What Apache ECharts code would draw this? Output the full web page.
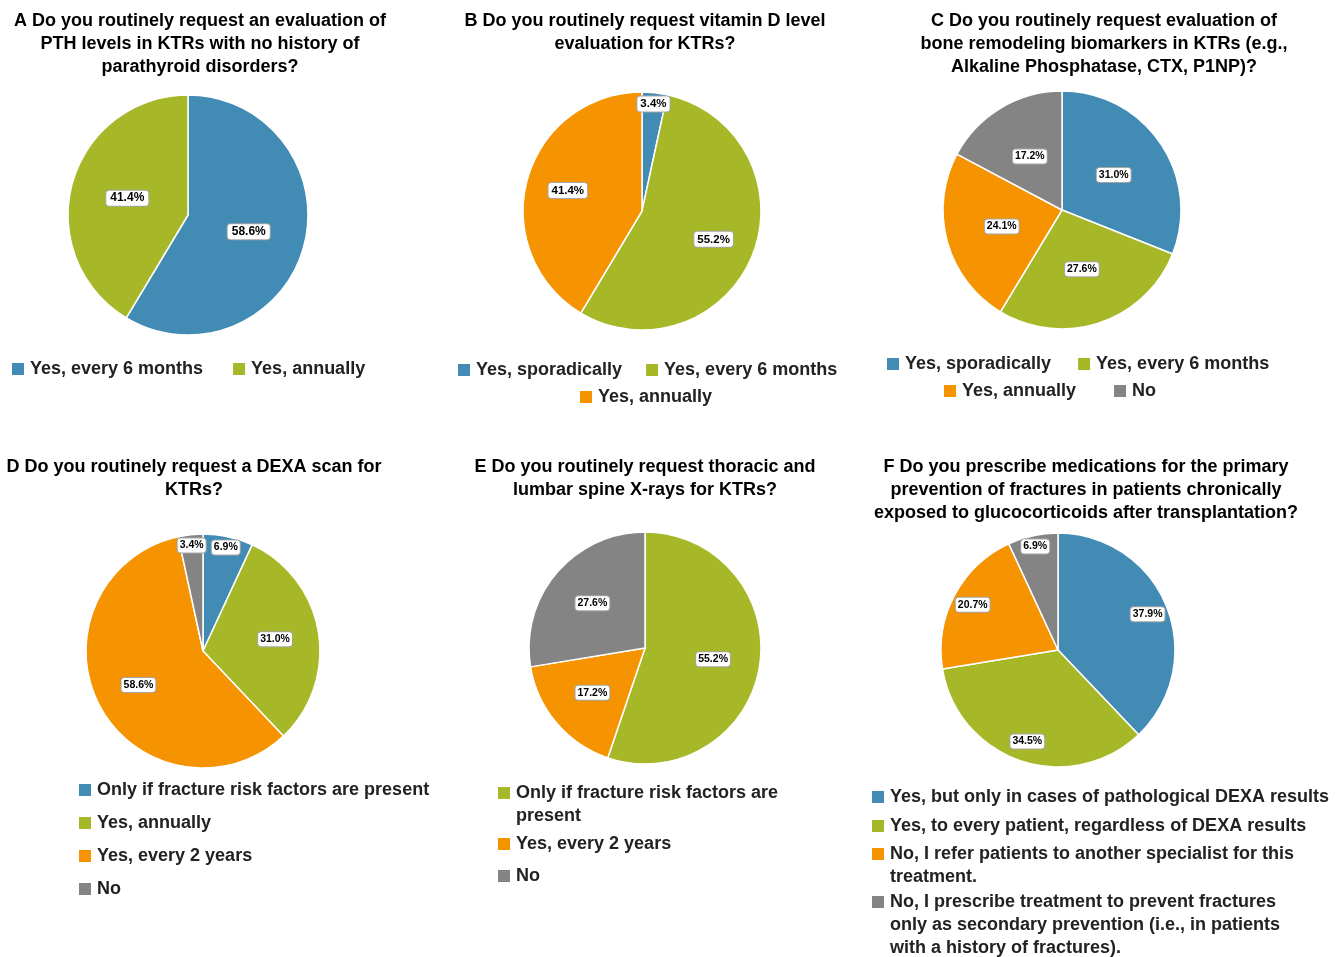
<!DOCTYPE html>
<html>
<head>
<meta charset="utf-8">
<script src="https://cdn.jsdelivr.net/npm/echarts@6/dist/echarts.min.js"></script>
<style>
html, body { margin: 0; background: #fff; }
#main { width: 1338px; height: 957px; }
</style>
</head>
<body>
<div id="main"></div>
<script>
// ---- data ----
var titleA = 'A Do you routinely request an evaluation of\nPTH levels in KTRs with no history of\nparathyroid disorders?';
var namesA = ['Yes, every 6 months', 'Yes, annually'];
var valuesA = [58.6, 41.4];

var titleB = 'B Do you routinely request vitamin D level\nevaluation for KTRs?';
var namesB = ['Yes, sporadically', 'Yes, every 6 months', 'Yes, annually'];
var valuesB = [3.4, 55.2, 41.4];

var titleC = 'C Do you routinely request evaluation of\nbone remodeling biomarkers in KTRs (e.g.,\nAlkaline Phosphatase, CTX, P1NP)?';
var namesC = ['Yes, sporadically', 'Yes, every 6 months', 'Yes, annually', 'No'];
var valuesC = [31.0, 27.6, 24.1, 17.2];

var titleD = 'D Do you routinely request a DEXA scan for\nKTRs?';
var namesD = ['Only if fracture risk factors are present', 'Yes, annually', 'Yes, every 2 years', 'No'];
var valuesD = [6.9, 31.0, 58.6, 3.4];

var titleE = 'E Do you routinely request thoracic and\nlumbar spine X-rays for KTRs?';
var namesE = ['Only if fracture risk factors are present', 'Yes, every 2 years', 'No'];
var valuesE = [55.2, 17.2, 27.6];

var titleF = 'F Do you prescribe medications for the primary\nprevention of fractures in patients chronically\nexposed to glucocorticoids after transplantation?';
var namesF = [
  'Yes, but only in cases of pathological DEXA results',
  'Yes, to every patient, regardless of DEXA results',
  'No, I refer patients to another specialist for this treatment.',
  'No, I prescribe treatment to prevent fractures only as secondary prevention (i.e., in patients with a history of fractures).'
];
var valuesF = [37.9, 34.5, 20.7, 6.9];

// ---- styles ----
var BLUE = '#428bb4', GREEN = '#a6b727', ORANGE = '#f59300', GREY = '#848484';
var FONT = '"Liberation Sans", Arial, sans-serif';
var LH = 23;
var colorsA = [BLUE, GREEN];
var colorsB = [BLUE, GREEN, ORANGE];
var colorsC = [BLUE, GREEN, ORANGE, GREY];
var colorsD = [BLUE, GREEN, ORANGE, GREY];
var colorsE = [GREEN, ORANGE, GREY];
var colorsF = [BLUE, GREEN, ORANGE, GREY];

// legend texts wrapped as in the original
var wrapText = {
  'E:Only if fracture risk factors are present': 'Only if fracture risk factors are\npresent',
  'F:No, I refer patients to another specialist for this treatment.': 'No, I refer patients to another specialist for this\ntreatment.',
  'F:No, I prescribe treatment to prevent fractures only as secondary prevention (i.e., in patients with a history of fractures).':
    'No, I prescribe treatment to prevent fractures\nonly as secondary prevention (i.e., in patients\nwith a history of fractures).'
};

function fmtPct(p) { return p.value.toFixed(1) + '%'; }

function labelStyle(size, padX) {
  return {
    show: true, position: 'inside', formatter: fmtPct,
    color: '#000', fontSize: size, fontWeight: 'bold', fontFamily: FONT,
    backgroundColor: '#fff', borderColor: '#a6a6a6', borderWidth: 1, borderRadius: 3,
    padding: [2, padX, 1, padX]
  };
}

function makeTitle(text, x, top) {
  return {
    text: text, left: x, top: top, textAlign: 'center', padding: 0,
    textStyle: { fontFamily: FONT, fontSize: 18, fontWeight: 'bold', color: '#000', lineHeight: LH }
  };
}

// transparent ring used only to carry labels; an inside label sits mid-ring
function labelRing(key, names, values, center, r, frac, size, padX, pick) {
  return {
    type: 'pie', name: key, center: center, radius: [Math.round(r * (2 * frac - 1)), r], startAngle: 90,
    silent: true, avoidLabelOverlap: false, z: 3,
    itemStyle: { color: 'rgba(0,0,0,0)', borderWidth: 0 },
    label: labelStyle(size, padX),
    labelLine: { show: false },
    labelLayout: { hideOverlap: false },
    data: values.map(function (v, i) {
      return { name: names[i], value: v, label: { show: pick(v) } };
    })
  };
}

// visible pie + label rings (wide slices at frac*r, thin slices near the rim)
function makePie(key, names, values, colors, center, r, frac, size, padX) {
  var main = {
    type: 'pie', name: key, center: center, radius: r, startAngle: 90,
    silent: true,
    itemStyle: { borderColor: '#fff', borderWidth: 1.5 },
    label: { show: false },
    labelLine: { show: false },
    data: values.map(function (v, i) {
      return { name: names[i], value: v, itemStyle: { color: colors[i] } };
    })
  };
  return [
    main,
    labelRing(key + '-lbl', names, values, center, r, frac, size, padX, function (v) { return v >= 10; }),
    labelRing(key + '-rim', names, values, center, r, 0.88, size, padX, function (v) { return v < 10; })
  ];
}

// one legend block; iconY is the centre of its first square
function makeLegend(key, names, colors, idx, left, iconY, orient, gap) {
  var lines = 1;
  idx.forEach(function (i) {
    var t = wrapText[key + ':' + names[i]];
    if (t) lines = Math.max(lines, t.split('\n').length);
  });
  var h = 14 + LH * (lines - 1);
  // square sits at the top of a taller icon box so it lines up with the first text line
  var icon = lines > 1 ? 'path://M0,0L14,0L14,14L0,14Z M0,' + h + 'L14,' + h : 'rect';
  return {
    orient: orient || 'horizontal',
    left: left, top: iconY - LH / 2, padding: 0,
    itemWidth: 14, itemHeight: h, itemGap: gap,
    icon: icon,
    textStyle: { fontFamily: FONT, fontSize: 18, fontWeight: 'bold', color: '#222', lineHeight: LH },
    formatter: function (n) { return wrapText[key + ':' + n] || n; },
    data: idx.map(function (i) {
      return { name: names[i], itemStyle: { color: colors[i] } };
    })
  };
}

var chart = echarts.init(document.getElementById('main'));
var option = {
  animation: false,
  backgroundColor: '#fff',
  title: [
    makeTitle(titleA, 200, 9.5),
    makeTitle(titleB, 645, 9.5),
    makeTitle(titleC, 1104, 9.5),
    makeTitle(titleD, 194, 455.5),
    makeTitle(titleE, 645, 455.5),
    makeTitle(titleF, 1086, 455.5)
  ],
  legend: [
    makeLegend('A', namesA, colorsA, [0, 1], 10, 369, 'horizontal', 28),
    makeLegend('B', namesB, colorsB, [0, 1], 456, 370, 'horizontal', 22),
    makeLegend('B', namesB, colorsB, [2], 578, 397, 'horizontal', 22),
    makeLegend('C', namesC, colorsC, [0, 1], 885, 364, 'horizontal', 25),
    makeLegend('C', namesC, colorsC, [2, 3], 942, 391, 'horizontal', 36),
    makeLegend('D', namesD, colorsD, [0, 1, 2, 3], 77, 790, 'vertical', 10),
    makeLegend('E', namesE, colorsE, [0], 496, 793),
    makeLegend('E', namesE, colorsE, [1, 2], 496, 844, 'vertical', 9),
    makeLegend('F', namesF, colorsF, [0], 870, 797),
    makeLegend('F', namesF, colorsF, [1], 870, 826),
    makeLegend('F', namesF, colorsF, [2], 870, 854),
    makeLegend('F', namesF, colorsF, [3], 870, 902)
  ],
  series: [].concat(
    makePie('A', namesA, valuesA, colorsA, [188, 215], 120, 0.5, 12, 4),
    makePie('B', namesB, valuesB, colorsB, [642, 211], 119, 0.62, 11.5, 3),
    makePie('C', namesC, valuesC, colorsC, [1062, 210], 119, 0.5, 10.5, 2),
    makePie('D', namesD, valuesD, colorsD, [203, 651], 117, 0.6, 10.5, 2),
    makePie('E', namesE, valuesE, colorsE, [645, 648], 116, 0.57, 10.5, 2),
    makePie('F', namesF, valuesF, colorsF, [1058, 650], 117, 0.8, 10.5, 2)
  )
};
chart.setOption(option);
</script>
</body>
</html>
